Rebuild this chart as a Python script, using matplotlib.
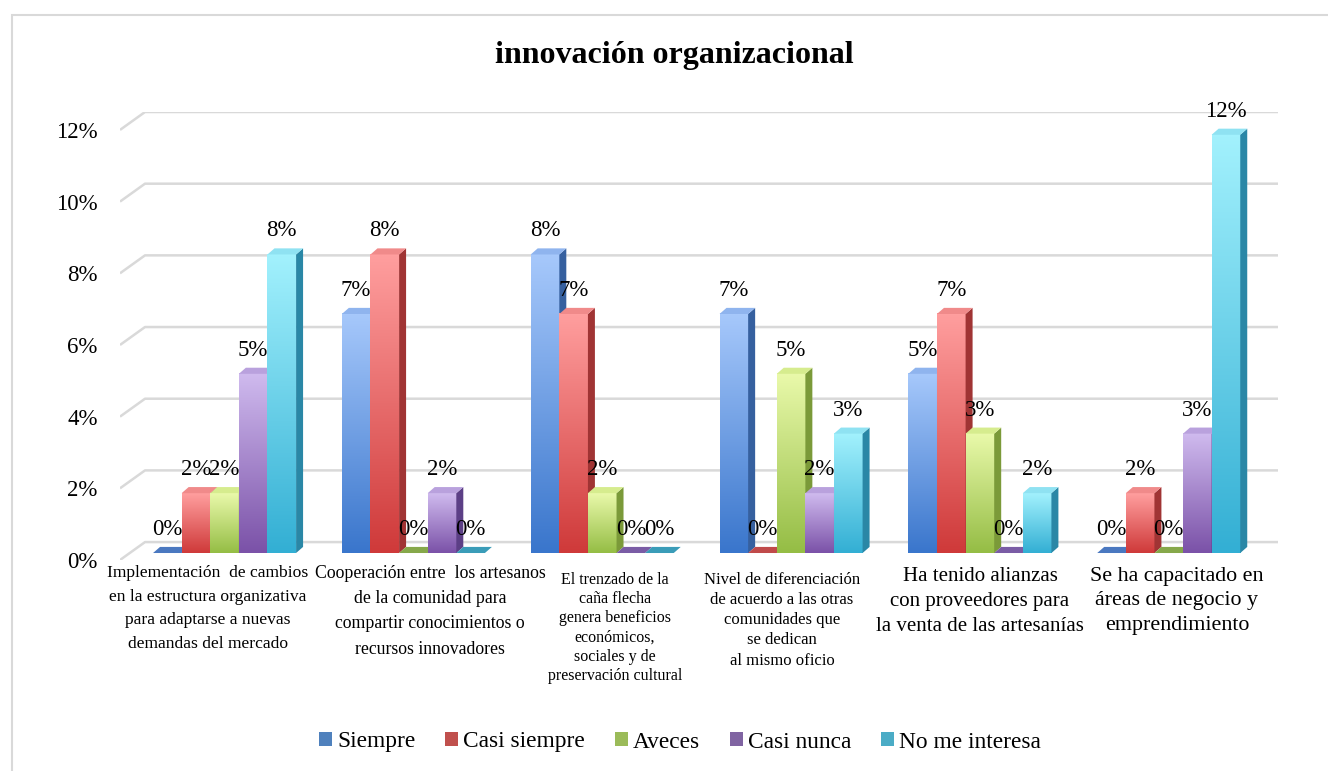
import numpy as np
import matplotlib
matplotlib.use('Agg')
import matplotlib.pyplot as plt
from matplotlib.patches import Polygon, Patch, Rectangle

plt.rcParams['font.family'] = ['Liberation Serif', 'DejaVu Serif']

# ==============================================================================
# 1. DATOS
# ==============================================================================
categorias = [
    "Implementación  de cambios\nen la estructura organizativa\npara adaptarse a nuevas\ndemandas del mercado",
    "Cooperación entre  los artesanos\nde la comunidad para\ncompartir conocimientos o\nrecursos innovadores",
    "El trenzado de la\ncaña flecha\ngenera beneficios\neconómicos,\nsociales y de\npreservación cultural",
    "Nivel de diferenciación\nde acuerdo a las otras\ncomunidades que\nse dedican\nal mismo oficio",
    "Ha tenido alianzas\ncon proveedores para\nla venta de las artesanías",
    "Se ha capacitado en\náreas de negocio y\nemprendimiento",
]
series_nombres = ["Siempre", "Casi siempre", "Aveces", "Casi nunca", "No me interesa"]

# porcentajes (%)
siempre = [0.0, 6.67, 8.33, 6.67, 5.0, 0.0]
casi_siempre = [1.67, 8.33, 6.67, 0.0, 6.67, 1.67]
aveces = [1.67, 0.0, 1.67, 5.0, 3.33, 0.0]
casi_nunca = [5.0, 1.67, 0.0, 1.67, 0.0, 3.33]
no_me_interesa = [8.33, 0.0, 0.0, 3.33, 1.67, 11.67]

ticks_y = [0, 2, 4, 6, 8, 10, 12]

series = [siempre, casi_siempre, aveces, casi_nunca, no_me_interesa]

# ==============================================================================
# 2. ESTILO (colores de las barras 3D)
# ==============================================================================
color_claro = ['#a6c8fb', '#ff9e9e', '#e9f9aa', '#cfbaee', '#a2f1fd']
color_oscuro = ['#3a76cc', '#cf3a3a', '#95bd45', '#7b52a8', '#33afd4']
color_lado = ['#36609f', '#a03434', '#7b9a39', '#5c3f86', '#2a87a6']
color_tapa = ['#8fb4ee', '#f08a8a', '#d6ec8e', '#b9a1dd', '#8fe2f2']
color_cero = ['#4a78c0', '#c04a4a', '#86a84a', '#7a5ca5', '#3a9cb8']
color_leyenda = ['#4F81BD', '#C0504D', '#9BBB59', '#8064A2', '#4BACC6']

fondo_dx, fondo_dy = 0.1324, 0.50     # profundidad de la pared del fondo
barra_dx, barra_dy = 0.037, 0.17      # profundidad de cada barra
ancho = 0.1515
base = 0.195

etiqueta_dx = [-0.034, 0.141, 0.121, 0.006, 0.054, 0.097]
etiqueta_y = [-0.15, -0.15, -0.33, -0.33, -0.2, -0.2]
etiqueta_size = [12.6, 12.8, 11.5, 12.0, 15.0, 15.8]
etiqueta_esp = [1.62, 1.62, 1.27, 1.35, 1.41, 1.38]

# ==============================================================================
# 3. GRÁFICO
# ==============================================================================
fig = plt.figure(figsize=(13.28, 7.71), dpi=100)
ax = fig.add_axes([120 / 1328, 1 - 560 / 771, 1158 / 1328, 448 / 771])

# rejilla en la pared del fondo
for v in ticks_y:
    ax.plot([0, fondo_dx, 6 + fondo_dx], [v, v + fondo_dy, v + fondo_dy],
            color='#d9d9d9', lw=1.8, zorder=0, solid_capstyle='butt')

grad = np.linspace(0, 1, 64)
for i in range(len(categorias)):
    for j, serie in enumerate(series):
        v = serie[i]
        x0 = i + 0.175 + j * ancho
        top = base + v
        z = 2 + j * 3
        if v > 0:
            c1 = np.array(matplotlib.colors.to_rgb(color_claro[j]))
            c2 = np.array(matplotlib.colors.to_rgb(color_oscuro[j]))
            img = c1[None, :] * (1 - grad[:, None]) + c2[None, :] * grad[:, None]
            ax.imshow(img[:, None, :], extent=[x0, x0 + ancho, base, top],
                      aspect='auto', interpolation='bilinear', zorder=z)
            ax.add_patch(Polygon([(x0 + ancho, base), (x0 + ancho + barra_dx, base + barra_dy),
                                  (x0 + ancho + barra_dx, top + barra_dy), (x0 + ancho, top)],
                                 closed=True, facecolor=color_lado[j], edgecolor='none', zorder=z))
            tapa = color_tapa[j]
        else:
            tapa = color_cero[j]
        ax.add_patch(Polygon([(x0, top), (x0 + ancho, top),
                              (x0 + ancho + barra_dx, top + barra_dy), (x0 + barra_dx, top + barra_dy)],
                             closed=True, facecolor=tapa, edgecolor='none', zorder=z + 1))
        ax.annotate('{:.0f}%'.format(v), (x0 + ancho / 2, top), xytext=(0, 17),
                    textcoords='offset points', ha='center', va='center',
                    fontsize=16.5, zorder=40)

ax.set_xlim(0, 6 + fondo_dx)
ax.set_ylim(0, 12 + fondo_dy)
ax.set_yticks(ticks_y)
ax.set_yticklabels(['{}%'.format(t) for t in ticks_y], fontsize=16.5)
ax.tick_params(axis='y', length=0, pad=16)
ax.set_xticks([])
for s in ax.spines.values():
    s.set_visible(False)

# etiquetas de categorías
for i, texto in enumerate(categorias):
    ax.text(i + 0.5 + etiqueta_dx[i], etiqueta_y[i], texto, ha='center', va='top',
            multialignment='center', fontsize=etiqueta_size[i],
            linespacing=etiqueta_esp[i], clip_on=False)

fig.text(674 / 1328, 1 - 56 / 771, 'innovación organizacional', ha='center',
         va='center', fontsize=23, fontweight='bold')

handles = [Patch(facecolor=c, edgecolor='none') for c in color_leyenda]
fig.legend(handles, series_nombres, loc='center', bbox_to_anchor=(680 / 1328, 1 - 742 / 771),
           ncol=5, frameon=False, fontsize=16.8, handlelength=0.55, handleheight=0.55,
           handletextpad=0.2, columnspacing=1.3)

# borde del área del gráfico
fig.add_artist(Rectangle((12 / 1328, -0.1), 1.2, 1 - 15 / 771 + 0.1, transform=fig.transFigure,
                         fill=False, edgecolor='#d9d9d9', lw=1.5))

fig.savefig('out.png', dpi=100)
